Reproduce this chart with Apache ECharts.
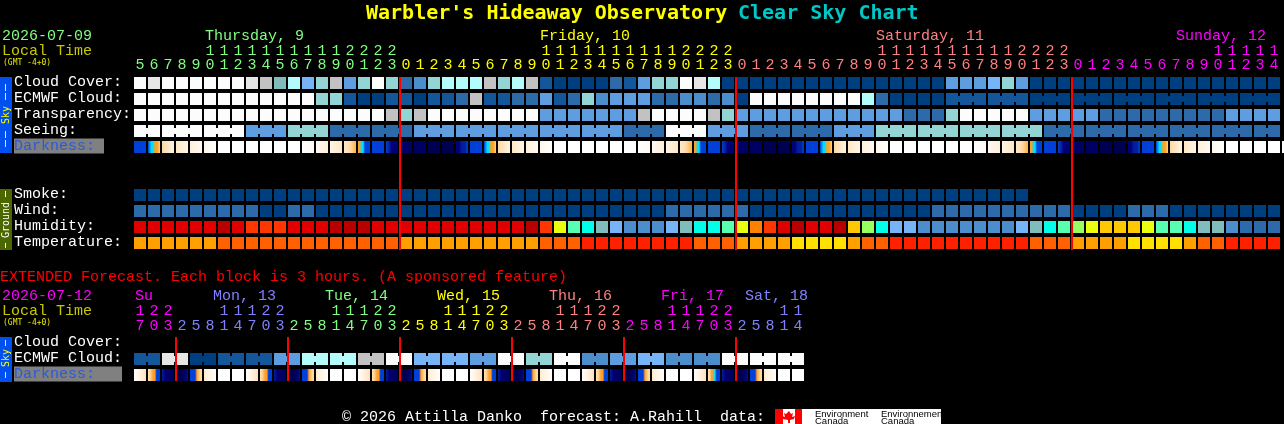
<!DOCTYPE html>
<html><head><meta charset="utf-8">
<style>html,body{margin:0;padding:0;background:#000}#c{width:1284px;height:424px}</style>
<script src="https://cdn.jsdelivr.net/npm/echarts@6/dist/echarts.min.js"></script>
</head><body><div id="c"></div>
<script>
// ---- hours along the two time axes ----
const hours = [5,6,7,8,9,10,11,12,13,14,15,16,17,18,19,20,21,22,23,
  0,1,2,3,4,5,6,7,8,9,10,11,12,13,14,15,16,17,18,19,20,21,22,23,
  0,1,2,3,4,5,6,7,8,9,10,11,12,13,14,15,16,17,18,19,20,21,22,23,
  0,1,2,3,4,5,6,7,8,9,10,11,12,13,14];
const hourDays = [0,0,0,0,0,0,0,0,0,0,0,0,0,0,0,0,0,0,0,
  1,1,1,1,1,1,1,1,1,1,1,1,1,1,1,1,1,1,1,1,1,1,1,1,
  2,2,2,2,2,2,2,2,2,2,2,2,2,2,2,2,2,2,2,2,2,2,2,2,
  3,3,3,3,3,3,3,3,3,3,3,3,3,3,3];
const extHours = [17,20,23, 2,5,8,11,14,17,20,23, 2,5,8,11,14,17,20,23, 2,5,8,11,14,17,20,23,
  2,5,8,11,14,17,20,23, 2,5,8,11,14,17,20,23, 2,5,8,11,14];
const extDays = [3,3,3, 4,4,4,4,4,4,4,4, 5,5,5,5,5,5,5,5, 6,6,6,6,6,6,6,6,
  7,7,7,7,7,7,7,7, 8,8,8,8,8,8,8,8, 9,9,9,9,9];
const midnightCols = [19,43,67];
const extMidnightCols = [3,11,19,27,35,43];
// ---- row labels ----
const skyLabels = ['Cloud Cover:','ECMWF Cloud:','Transparency:','Seeing:','Darkness:'];
const groundLabels = ['Smoke:','Wind:','Humidity:','Temperature:'];
const extLabels = ['Cloud Cover:','ECMWF Cloud:','Darkness:'];
// ---- sky levels, index into skyColors ----
const cloudCover = [11,10,11,11,11,11,11,11,10,9,6,8,5,7,9,4,7,11,7,2,3,7,8,8,8,9,7,8,9,1,0,0,0,0,2,1,4,7,7,11,10,8,0,
  0,0,0,0,0,0,0,0,0,0,0,0,0,0,0,4,4,4,5,7,4,0,0,0,0,0,0,0,0,0,0,0,0,0,0,0,0,0,0];
const ecmwfCloud = [11,11,11,11,11,11,11,11,11,11,11,11,11,7,7,1,0,0,1,1,0,1,1,2,9,1,1,2,2,4,1,2,7,3,4,4,4,2,2,3,3,2,3,0,
  11,11,11,11,11,11,11,11,8,2,0,0,0,0,1,1,1,1,1,1,0,0,0,0,0,0,0,0,0,0,0,0,0,0,0,0,0,0];
const transparency = [11,11,11,11,11,11,11,11,11,11,11,11,11,11,11,11,11,11,9,7,9,11,11,11,11,11,11,11,11,4,4,4,4,4,4,4,9,11,11,11,11,9,7,
  4,4,4,4,4,4,4,4,4,4,4,4,2,2,2,7,11,11,11,11,11,4,4,4,4,4,2,2,2,2,2,2,2,2,2,4,4,4,4];
const seeing = [11,11,11,11,11,11,11,11,4,4,4,7,7,7,2,2,2,2,2,2,4,4,4,4,4,4,4,4,4,4,4,4,4,4,4,2,2,2,11,11,11,4,4,4,
  2,2,2,2,2,2,4,4,4,7,7,7,7,7,7,7,7,7,7,7,7,2,2,2,2,2,2,2,2,2,2,2,2,2,2,2,2,2];
const smoke = [0,0,0,0,0,0,0,0,0,0,0,0,0,0,0,0,0,0,0,0,0,0,0,0,0,0,0,0,0,0,0,0,0,0,0,0,0,0,0,0,0,0,0,
  0,0,0,0,0,0,0,0,0,0,0,0,0,0,0,0,0,0,0,0,0];
const wind = [2,2,2,2,2,2,2,2,2,0,0,2,2,0,0,0,0,0,0,0,0,0,0,0,0,0,0,0,0,0,0,0,0,0,0,0,0,0,2,2,2,2,2,2,
  0,0,0,0,0,0,0,0,0,0,0,0,0,2,2,2,2,2,2,2,2,2,2,0,0,0,0,2,2,2,0,0,0,0,0,0,0,0];
const humidity = [11,11,11,11,11,11,12,11,10,10,10,11,11,11,12,12,12,11,11,11,11,11,11,11,11,11,11,11,12,10,7,5,4,3,2,1,1,1,2,3,4,4,5,7,
  9,10,11,12,11,11,12,8,6,4,2,2,1,1,1,1,1,1,1,2,3,4,5,6,7,8,8,8,7,5,5,4,3,3,1,0,0,0];
const temperature = [2,2,2,2,2,2,1,1,1,1,1,1,1,1,1,1,1,1,1,2,2,2,2,2,2,2,2,2,2,1,1,1,0,0,0,0,0,0,0,0,1,1,1,
  2,2,2,2,3,3,3,3,2,1,1,0,0,0,0,0,0,0,0,0,0,1,1,1,2,2,2,2,3,3,3,3,2,1,1,0,0,0,0];
const extEcmwf = [1,1,10,10,0,0,1,1,1,1,4,4,8,8,8,8,9,9,11,11,5,5,5,5,4,4,11,11,7,7,11,11,3,3,4,4,5,5,3,3,3,3,11,11,11,11,11,11];
// ---- darkness: brightness levels sampled left to right across each cell ----
const darkness = [
 [3],[3,4,5,5,7,7,7.3,8],[8,8.5,9,9.3],[8.8,9.5],[9.2,9.7],[9.6,10],[10],[10],[10],[10],[10],[10],[10,9.7],[9.7,9.2],[9.4,8.8],[8.8,8.2,7.3],[7,7,5,5,3,3,3,3],[3],[3,2,1,1,.5],
 [.5],[.5],[0],[0],[1,1,2,2,3],[3],[3,4,5,5,7,7,7.3,8],[8,8.5,9,9.3],[8.8,9.5],[9.2,9.7],[9.6,10],[10],[10],[10],[10],[10],[10],[10,9.7],[9.7,9.2],[9.4,8.8],[8.8,8.2,7.3],[7,7,5,5,3,3,3,3],[3],[3,2,1,1,.5],
 [.5],[.5],[0],[0],[1,1,2,2,3],[3],[3,4,5,5,7,7,7.3,8],[8,8.5,9,9.3],[8.8,9.5],[9.2,9.7],[9.6,10],[10],[10],[10],[10],[10],[10],[10,9.7],[9.7,9.2],[9.4,8.8],[8.8,8.2,7.3],[7,7,5,5,3,3,3,3],[3],[3,2,1,1,.5],
 [.5],[.5],[0],[0],[1,1,2,2,3],[3],[3,4,5,5,7,7,7.3,8],[8,8.5,9,9.3],[8.8,9.5],[9.2,9.7],[9.6,10],[10],[10],[10],[10],[10]];
const extDarkness = [
 [10,9.5,9,8.5],[8.5,8,7.5,7,7,3,3,3],[2,1,.5,.5,0],
 [0,0,0,.5,1.5],[3,3,3,3,7,7.5,8,8],[9,9.5,10],[10],[10],[10,9.5,9,8.5],[8.5,8,7.5,7,7,3,3,3],[2,1,.5,.5,0],
 [0,0,0,.5,1.5],[3,3,3,3,7,7.5,8,8],[9,9.5,10],[10],[10],[10,9.5,9,8.5],[8.5,8,7.5,7,7,3,3,3],[2,1,.5,.5,0],
 [0,0,0,.5,1.5],[3,3,3,3,7,7.5,8,8],[9,9.5,10],[10],[10],[10,9.5,9,8.5],[8.5,8,7.5,7,7,3,3,3],[2,1,.5,.5,0],
 [0,0,0,.5,1.5],[3,3,3,3,7,7.5,8,8],[9,9.5,10],[10],[10],[10,9.5,9,8.5],[8.5,8,7.5,7,7,3,3,3],[2,1,.5,.5,0],
 [0,0,0,.5,1.5],[3,3,3,3,7,7.5,8,8],[9,9.5,10],[10],[10],[10,9.5,9,8.5],[8.5,8,7,6,5,3,3,3],[2,1,.5,.5,0],
 [0,0,0,.5,1.5],[3,3,3,3,7,7.5,8,8],[9,9.5,10],[10],[10]];

// ---- styling ----
const skyColors = ['#003f7f','#13569a','#2c6aa9','#4c8dcc','#5f9de1','#76b4f7','#80bcbc','#93d4d4','#b4fbfb','#c2c2c2','#e6e6e6','#fcfcfc'];
const humidityColors = ['#2c6aa9','#4c8dcc','#76b4f7','#80bcbc','#00ffe8','#58ffb0','#98ff60','#eaff10','#ffc800','#ff8000','#ff3600','#e00000','#b80000'];
const temperatureColors = ['#ff2000','#ff6000','#ffa000','#ffe000'];
const darkColors = ['#000050','#000078','#0020a0','#0040d8','#0090e8','#00e0ff','#c0b060','#ffa020','#ffd8a0','#ffecd0','#ffffff'];
const dayColors = ['#80ff80','#ffff00','#ff8080','#ff00ff','#8080ff','#80ff80','#ffff00','#ff8080','#ff00ff','#8080ff'];
const FONT = '"Liberation Mono","DejaVu Sans Mono",monospace';
const TITLE_FONT = '"DejaVu Sans Mono","Liberation Mono",monospace';

function gradientFor(levels){
  if(levels.length===1) return echarts.color.lerp(levels[0]/10,darkColors);
  const stops = levels.map((l,i)=>({offset:i/(levels.length-1),color:echarts.color.lerp(l/10,darkColors)}));
  return new echarts.graphic.LinearGradient(0,0,1,0,stops);
}
// rows: each has a palette, or none for the darkness gradient list; link(col) says whether col joins col+1
function cellSeries(gridIndex,xIndex,rows){
  const data=[];
  rows.forEach((r,row)=>r.values.forEach((v,col)=>{data.push([col,row,r.palette?v:col]);}));
  return {type:'custom',coordinateSystem:'cartesian2d',xAxisIndex:xIndex,yAxisIndex:gridIndex,silent:true,z:2,animation:false,
    encode:{x:0,y:1},data:data,
    renderItem:function(p,api){
      const col=api.value(0),row=api.value(1),val=api.value(2);
      const c=api.coord([col,row]);
      const r=rows[row];
      const fill=r.palette?r.palette[val]:gradientFor(r.values[val]);
      const kids=[{type:'rect',shape:{x:c[0]-6,y:c[1]-6,width:12,height:12},style:{fill:fill}}];
      if(r.link&&r.link(col)&&col<r.values.length-1){
        kids.push({type:'rect',shape:{x:c[0]+5,y:c[1]-3,width:4,height:6},style:{fill:fill}});
      }
      return {type:'group',children:kids};
    }};
}
function redSeries(xIndex,yIndex,cols,y0,y1){
  return {type:'custom',coordinateSystem:'cartesian2d',xAxisIndex:xIndex,yAxisIndex:yIndex,silent:true,z:5,animation:false,clip:false,
    encode:{x:0,y:1},data:cols.map(c=>[c,0]),
    renderItem:function(p,api){
      const c=api.coord([api.value(0),0]);
      return {type:'rect',shape:{x:c[0]-7,y:y0,width:2,height:y1-y0},style:{fill:'#ff0000'}};
    }};
}
function timeAxes(grid,hrs,days,margin,tensOffset){
  const lab=(m)=>({show:true,interval:0,margin:m,hideOverlap:false,fontFamily:FONT,fontSize:15,
      color:function(v,i){return dayColors[days[i]];}});
  return [
   {type:'category',gridIndex:grid,position:'top',boundaryGap:true,data:hrs.map(h=>String(h%10)),
    axisLine:{show:false},axisTick:{show:false},splitLine:{show:false},axisLabel:lab(margin)},
   {type:'category',gridIndex:grid,position:'top',offset:tensOffset,boundaryGap:true,data:hrs.map(h=>h>=10?String(Math.floor(h/10)):''),
    axisLine:{show:false},axisTick:{show:false},splitLine:{show:false},axisLabel:lab(margin)}
  ];
}
function rowAxis(grid,labels,grayWidth){
  return {type:'category',gridIndex:grid,inverse:true,data:labels,
    axisLine:{show:false},axisTick:{show:false},splitLine:{show:false},
    axisLabel:{show:true,interval:0,align:'left',margin:119,fontFamily:FONT,fontSize:15,color:'#fff',padding:[0,0,2,0],
      formatter:function(v){return v==='Darkness:'?'{d|'+v+'}':v;},
      rich:{d:{color:'#2a5ad8',fontFamily:FONT,fontSize:15,backgroundColor:'#808080',width:grayWidth,height:15,lineHeight:15}}}};
}
function txt(s,x,y,fill,font){
  return {type:'text',silent:true,style:{text:s,x:x,y:y,fill:fill,font:font||('15px '+FONT),textVerticalAlign:'middle',textAlign:'left'}};
}
function vtxt(s,cx,cy,fill){
  return {type:'text',silent:true,x:cx,y:cy,rotation:Math.PI/2,style:{text:s,x:0,y:0,fill:fill,font:'10px '+TITLE_FONT,textAlign:'center',textVerticalAlign:'middle'}};
}
function box(x,y,w,h,fill){ return {type:'rect',silent:true,shape:{x:x,y:y,width:w,height:h},style:{fill:fill}}; }

const linkSeeing=c=>(c+1)%3!==2;                // Seeing: 3-hour groups
const linkEcmwf=c=>c>=58&&(c+1)%3!==1;          // ECMWF: 3-hour groups late in the run
const linkPair=c=>c%2===0;                      // extended: 6-hour pairs

const series=[
  cellSeries(0,0,[
    {values:cloudCover,palette:skyColors},
    {values:ecmwfCloud,palette:skyColors,link:linkEcmwf},
    {values:transparency,palette:skyColors},
    {values:seeing,palette:skyColors,link:linkSeeing},
    {values:darkness}]),
  cellSeries(1,2,[
    {values:smoke,palette:skyColors},
    {values:wind,palette:skyColors},
    {values:humidity,palette:humidityColors},
    {values:temperature,palette:temperatureColors}]),
  cellSeries(2,4,[
    {values:[],palette:skyColors},
    {values:extEcmwf,palette:skyColors,link:linkPair},
    {values:extDarkness}]),
  redSeries(0,0,midnightCols,77,250),
  redSeries(4,2,extMidnightCols,337,381)
];

const graphics=[
  txt("Warbler's Hideaway Observatory",366,14,'#ffff00','bold 20px '+TITLE_FONT),
  txt('Clear Sky Chart',738,14,'#00c8c8','bold 20px '+TITLE_FONT),
  txt('2026-07-09',2,36,'#80ff80'),
  txt('Local Time',2,51,'#c8c800'),
  txt('(GMT -4+0)',3,63,'#e8e800','8px '+TITLE_FONT),
  txt('Thursday, 9',205,36,dayColors[0]),
  txt('Friday, 10',540,36,dayColors[1]),
  txt('Saturday, 11',876,36,dayColors[2]),
  txt('Sunday, 12',1176,36,dayColors[3]),
  box(0,77,12,76,'#0050f0'),
  box(5,84,1,7,'#ffff00'),box(5,93,1,7,'#ffff00'),box(5,131,1,7,'#ffff00'),box(5,140,1,7,'#ffff00'),
  vtxt('Sky',6,115,'#ffff00'),
  box(0,189,12,61,'#4c6600'),
  box(5,191,1,6,'#ffffff'),box(5,243,1,5,'#ffffff'),
  vtxt('Ground',6,220,'#ffffff'),
  txt('EXTENDED Forecast. Each block is 3 hours. (A sponsored feature)',0,277,'#ff0000'),
  txt('2026-07-12',2,296,'#ff00ff'),
  txt('Local Time',2,311,'#c8c800'),
  txt('(GMT -4+0)',3,323,'#e8e800','8px '+TITLE_FONT),
  txt('Su',135,296,dayColors[3]),
  txt('Mon, 13',213,296,dayColors[4]),
  txt('Tue, 14',325,296,dayColors[5]),
  txt('Wed, 15',437,296,dayColors[6]),
  txt('Thu, 16',549,296,dayColors[7]),
  txt('Fri, 17',661,296,dayColors[8]),
  txt('Sat, 18',745,296,dayColors[9]),
  box(0,337,12,45,'#0050f0'),
  box(5,340,1,6,'#ffff00'),box(5,372,1,6,'#ffff00'),
  vtxt('Sky',6,358,'#ffff00'),
  txt('\u00a9 2026 Attilla Danko  forecast: A.Rahill  data:',342,417,'#ffffff'),
  box(775,409,166,15,'#ffffff'),
  box(775,409,8,15,'#ff0000'),box(795,409,7,15,'#ff0000'),
  {type:'polygon',silent:true,shape:{points:[[789,411],[791,414],[793,413],[792,417],[795,416],[794,419],[790,420],[790,423],[788,423],[788,420],[783,419],[782,416],[785,417],[784,413],[786,414]]},style:{fill:'#ff0000'}},
  txt('Environment',815,414,'#000000','9.5px "Liberation Sans"'),
  txt('Canada',815,421,'#000000','9.5px "Liberation Sans"'),
  txt('Environnement',881,414,'#000000','9.5px "Liberation Sans"'),
  txt('Canada',881,421,'#000000','9.5px "Liberation Sans"')
];

const chart=echarts.init(document.getElementById('c'),null,{renderer:'canvas',width:1284,height:424});
chart.setOption({
  backgroundColor:'#000',animation:false,tooltip:{show:false},legend:{show:false},
  grid:[
    {left:133,top:75,width:1148,height:80},
    {left:133,top:187,width:1148,height:64},
    {left:133,top:335,width:672,height:48}
  ],
  xAxis:[
    ...timeAxes(0,hours,hourDays,2,14),
    {type:'category',gridIndex:1,show:false,data:hours.map(String)},
    {type:'category',gridIndex:1,show:false,data:hours.map(String)},
    ...timeAxes(2,extHours,extDays,1,15)
  ],
  yAxis:[rowAxis(0,skyLabels,90),rowAxis(1,groundLabels,90),rowAxis(2,extLabels,108)],
  series:series,
  graphic:{elements:graphics}
});
</script></body></html>
